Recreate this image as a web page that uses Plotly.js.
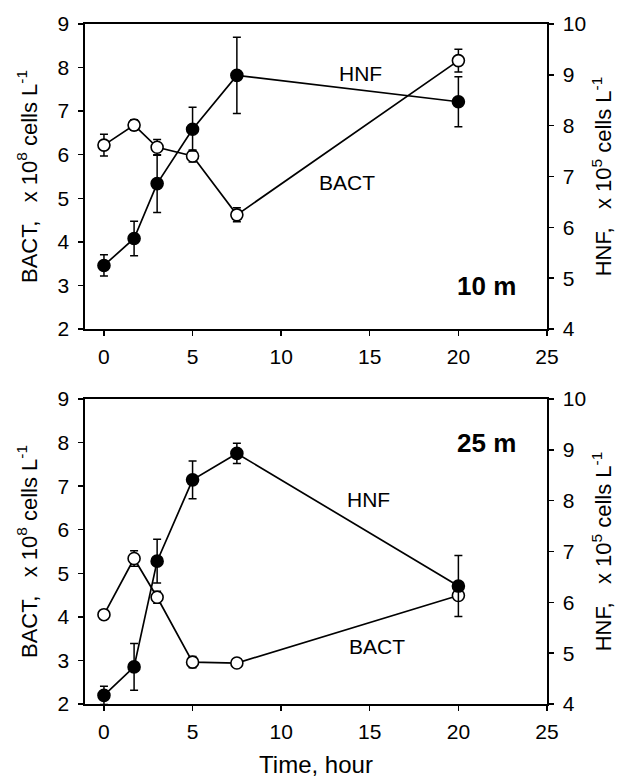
<!DOCTYPE html>
<html>
<head>
<meta charset="utf-8">
<script src="https://cdn.plot.ly/plotly-3.0.1.min.js"></script>
<style>body{margin:0;padding:0;background:#fff}#chart{width:620px;height:778px}</style>
</head>
<body>
<div id="chart"></div>
<script>
// Time (hours)
const time = [0, 1.7, 3, 5, 7.5, 20];

// 10 m panel
const bact10 = [6.22, 6.68, 6.17, 5.97, 4.62, 8.16];
const bact10Err = [0.25, 0.12, 0.18, 0.14, 0.16, 0.26];
const hnf10 = [5.25, 5.78, 6.86, 7.93, 8.99, 8.47];
const hnf10Err = [0.21, 0.34, 0.57, 0.43, 0.75, 0.49];

// 25 m panel
const bact25 = [4.05, 5.34, 4.45, 2.96, 2.94, 4.49];
const bact25Err = [0.09, 0.18, 0.14, 0.13, 0.08, 0.1];
const hnf25 = [4.17, 4.73, 6.81, 8.41, 8.93, 6.32];
const hnf25Err = [0.18, 0.46, 0.43, 0.37, 0.2, 0.6];

const xTicks = [0, 5, 10, 15, 20, 25];
const leftTicks = [2, 3, 4, 5, 6, 7, 8, 9];
const rightTicks = [4, 5, 6, 7, 8, 9, 10];

const FONT = "Liberation Sans, Arial, sans-serif";
const TICKFONT = {family: FONT, size: 21, color: '#000'};
const TITLEFONT = {family: FONT, size: 22, color: '#000'};

function series(x, y, err, xa, ya, open) {
  return {
    x: x, y: y, xaxis: xa, yaxis: ya, type: 'scatter', mode: 'lines+markers',
    line: {color: '#000', width: 1.7},
    marker: {symbol: 'circle', size: 12, color: open ? '#fff' : '#000',
             line: {color: '#000', width: 1.6}},
    error_y: {type: 'data', array: err, visible: true, color: '#000', thickness: 1.5, width: 4},
    showlegend: false, cliponaxis: false
  };
}

const data = [
  // bottom panel (25 m)
  series(time, hnf25, hnf25Err, 'x', 'y2', false),
  series(time, bact25, bact25Err, 'x', 'y', true),
  // top panel (10 m)
  series(time, hnf10, hnf10Err, 'x2', 'y4', false),
  series(time, bact10, bact10Err, 'x2', 'y3', true)
];

const xCommon = {
  range: [-1.07, 25], tickvals: xTicks, ticks: 'outside', ticklen: 5, tickwidth: 1.4,
  tickcolor: '#000', showline: true, linecolor: '#000', linewidth: 1.6, mirror: true,
  showgrid: false, zeroline: false, tickfont: TICKFONT, ticklabelstandoff: 3
};
const yLeftCommon = {
  range: [2, 9], tickvals: leftTicks, ticks: 'outside', ticklen: 5, tickwidth: 1.4,
  tickcolor: '#000', showline: true, linecolor: '#000', linewidth: 1.6,
  showgrid: false, zeroline: false, tickfont: TICKFONT, ticklabelstandoff: 5,
  title: {text: 'BACT,&nbsp;&nbsp; x 10<sup>8</sup> cells L<sup>-1</sup>', font: TITLEFONT, standoff: 14}
};
const yRightCommon = {
  range: [4, 10], tickvals: rightTicks, ticks: 'outside', ticklen: 5, tickwidth: 1.4,
  tickcolor: '#000', showline: true, linecolor: '#000', linewidth: 1.6, side: 'right',
  showgrid: false, zeroline: false, tickfont: TICKFONT, ticklabelstandoff: 5,
  title: {text: 'HNF,&nbsp;&nbsp; x 10<sup>5</sup> cells L<sup>-1</sup>', font: TITLEFONT, standoff: 10}
};

const layout = {
  width: 620, height: 778,
  margin: {l: 85, r: 73, t: 24, b: 74},
  paper_bgcolor: '#fff', plot_bgcolor: '#fff',
  font: {family: FONT, color: '#000'},
  xaxis: Object.assign({}, xCommon, {anchor: 'y', domain: [0, 1],
    title: {text: 'Time, hour', font: {family: FONT, size: 24, color: '#000'}, standoff: 14}}),
  xaxis2: Object.assign({}, xCommon, {anchor: 'y3', domain: [0, 1]}),
  yaxis: Object.assign({}, yLeftCommon, {anchor: 'x', domain: [0, 0.4485]}),
  yaxis2: Object.assign({}, yRightCommon, {anchor: 'x', overlaying: 'y'}),
  yaxis3: Object.assign({}, yLeftCommon, {anchor: 'x2', domain: [0.5515, 1]}),
  yaxis4: Object.assign({}, yRightCommon, {anchor: 'x2', overlaying: 'y3'}),
  annotations: [
    {x: 14.5, y: 7.86, xref: 'x2', yref: 'y3', text: 'HNF', showarrow: false, font: {family: FONT, size: 21, color: '#000'}},
    {x: 13.7, y: 5.36, xref: 'x2', yref: 'y3', text: 'BACT', showarrow: false, font: {family: FONT, size: 21, color: '#000'}},
    {x: 21.6, y: 2.98, xref: 'x2', yref: 'y3', text: '<b>10 m</b>', showarrow: false, font: {family: FONT, size: 26, color: '#000'}},
    {x: 14.9, y: 6.69, xref: 'x', yref: 'y', text: 'HNF', showarrow: false, font: {family: FONT, size: 21, color: '#000'}},
    {x: 15.4, y: 3.32, xref: 'x', yref: 'y', text: 'BACT', showarrow: false, font: {family: FONT, size: 21, color: '#000'}},
    {x: 21.6, y: 8.0, xref: 'x', yref: 'y', text: '<b>25 m</b>', showarrow: false, font: {family: FONT, size: 26, color: '#000'}}
  ]
};

Plotly.newPlot('chart', data, layout, {displayModeBar: false, staticPlot: true});
</script>
</body>
</html>
